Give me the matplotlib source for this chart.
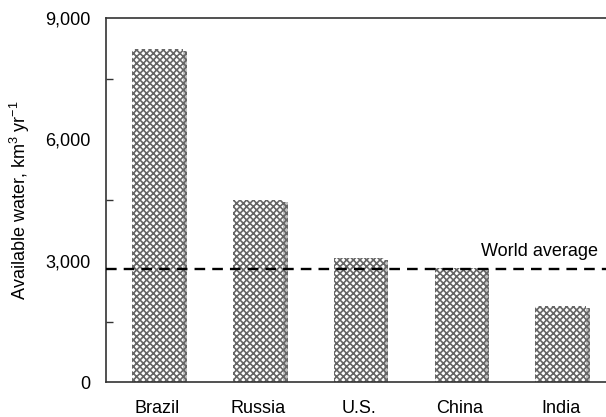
import matplotlib
matplotlib.use("Agg")
import matplotlib.pyplot as plt
import matplotlib.patheffects as pe
from matplotlib.ticker import FixedLocator

# data
countries = ["Brazil", "Russia", "U.S.", "China", "India"]
water = [8230, 4500, 3060, 2830, 1880]
world_avg = 2800
yticks = [0, 3000, 6000, 9000]
yminor = [1500, 4500, 7500]

plt.rcParams['font.family'] = ['Liberation Sans', 'DejaVu Sans']
plt.rcParams['mathtext.fontset'] = 'custom'
plt.rcParams['mathtext.rm'] = 'Liberation Sans'
plt.rcParams['mathtext.it'] = 'Liberation Sans'
plt.rcParams['hatch.linewidth'] = 1.2

fig = plt.figure(figsize=(6.06, 4.17), dpi=100)
ax = fig.add_axes([0.175, 0.083, 0.825, 0.874])

x = list(range(len(countries)))
bars = ax.bar(x, water, width=0.5, color='white', edgecolor='#666666',
              linewidth=0, hatch='xxxxx', zorder=2)
for b in bars:
    b.set_path_effects([pe.SimplePatchShadow(offset=(3, -1), shadow_rgbFace='#999999', alpha=0.6),
                        pe.Normal()])

ax.axhline(world_avg, color='black', linewidth=1.7, linestyle=(0, (4.5, 3)), zorder=3)
ax.text(4.37, 3110, 'World average', ha='right', va='baseline', fontsize=13)

ax.set_xlim(-0.51, 4.45)
ax.set_ylim(0, 9000)
ax.set_yticks(yticks)
ax.set_yticklabels([f'{v:,}' for v in yticks])
ax.yaxis.set_minor_locator(FixedLocator(yminor))
ax.tick_params(axis='y', which='major', length=0, pad=11, labelsize=13)
ax.tick_params(axis='y', which='minor', direction='in', length=5, width=1, color='#333333')
ax.set_xticks(x)
ax.set_xticklabels(countries)
ax.tick_params(axis='x', length=0, pad=13, labelsize=13)

ax.spines['right'].set_visible(False)
for s in ['left', 'top', 'bottom']:
    ax.spines[s].set_color('#333333')
    ax.spines[s].set_linewidth(1.2)

ax.set_ylabel(r'Available water, km$^3$ yr$^{-1}$', fontsize=13, labelpad=10)

fig.savefig('out.png', dpi=100)
